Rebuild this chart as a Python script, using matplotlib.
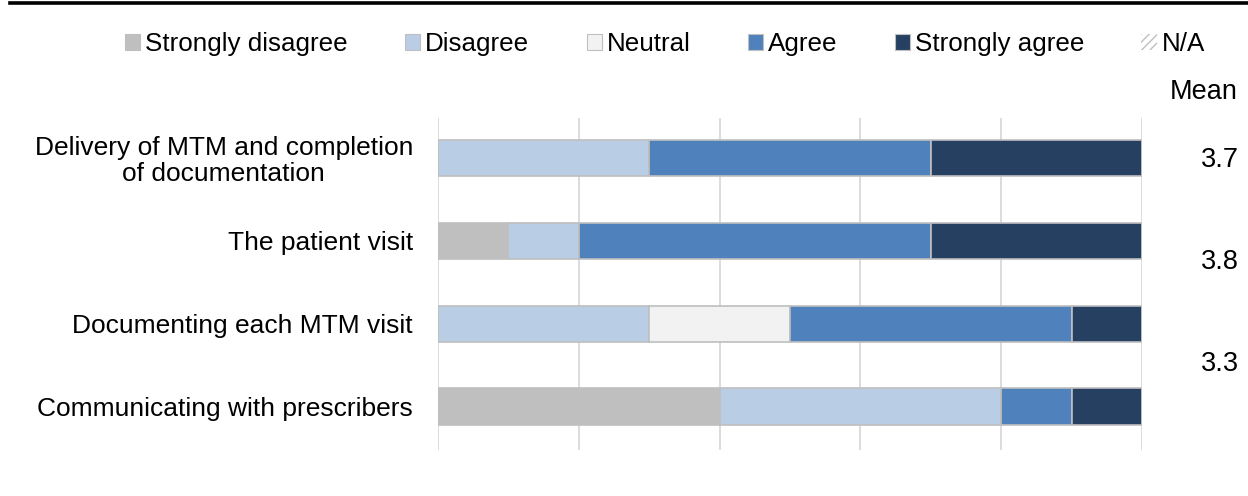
import numpy as np
import matplotlib.pyplot as plt
from matplotlib.patches import Patch
from matplotlib.lines import Line2D

plt.rcParams['font.family'] = ['Liberation Sans', 'DejaVu Sans']

items = ['Delivery of MTM and completion\nof documentation',
         'The patient visit',
         'Documenting each MTM visit',
         'Communicating with prescribers']
levels = ['Strongly disagree', 'Disagree', 'Neutral', 'Agree', 'Strongly agree', 'N/A']
colors = ['#BFBFBF', '#B9CDE5', '#F2F2F2', '#4F81BD', '#254061', '#D9D9D9']

# percent of responses per item, in order of levels
strongly_disagree = [0, 10, 0, 40]
disagree = [30, 10, 30, 40]
neutral = [0, 0, 20, 0]
agree = [40, 50, 40, 10]
strongly_agree = [30, 30, 10, 10]
not_applicable = [0, 0, 0, 0]

means = [3.7, 3.8, 3.3]

series = [strongly_disagree, disagree, neutral, agree, strongly_agree, not_applicable]

W, H = 1248, 496
fig = plt.figure(figsize=(W / 100, H / 100), dpi=100)
ax = fig.add_axes([0.351, 0.093, 0.564, 0.669])

y = np.arange(len(items))
left = np.zeros(len(items))
for vals, c, lab in zip(series, colors, levels):
    vals = np.array(vals, dtype=float)
    hatch = '////' if lab == 'N/A' else None
    ax.barh(y, vals, left=left, height=0.44, color=c, edgecolor='#BFBFBF',
            linewidth=1.2, hatch=hatch, zorder=3)
    left += vals

ax.set_xlim(0, 100)
ax.set_ylim(3.52, -0.48)
ax.set_xticks(np.arange(0, 101, 20))
ax.xaxis.grid(True, color='#D9D9D9', linewidth=1.3, zorder=0)
ax.tick_params(axis='x', length=0, labelbottom=False)
ax.tick_params(axis='y', length=0, labelsize=19, pad=18)
ax.set_yticks(y)
ax.set_yticklabels(items, ha='right', multialignment='center', linespacing=1.1)
for s in ax.spines.values():
    s.set_visible(False)

# mean scores down the right side
fig.text(1238 / W, 1 - 92 / H, 'Mean', ha='right', va='center', fontsize=19.5)
for i, m in enumerate(means):
    fig.text(1239 / W, 1 - (160 + 102 * i) / H, f'{m:.1f}',
             ha='right', va='center', fontsize=19.5)

handles = []
for c, lab in zip(colors, levels):
    if lab == 'N/A':
        handles.append(Patch(facecolor='white', edgecolor='#BFBFBF', hatch='////',
                             linewidth=0, label=lab))
    else:
        handles.append(Patch(facecolor=c, edgecolor='#BFBFBF', linewidth=0.8, label=lab))
fig.legend(handles=handles, loc='center left', bbox_to_anchor=(125 / W, 1 - 44 / H),
           ncol=6, frameon=False, fontsize=18.7, handlelength=0.58, handleheight=0.58,
           handletextpad=0.2, columnspacing=2.2, borderpad=0, borderaxespad=0)

fig.add_artist(Line2D([0.008, 1.0], [0.993, 0.993], color='black', linewidth=2.6,
                      transform=fig.transFigure))

fig.savefig('out.png', dpi=100)
